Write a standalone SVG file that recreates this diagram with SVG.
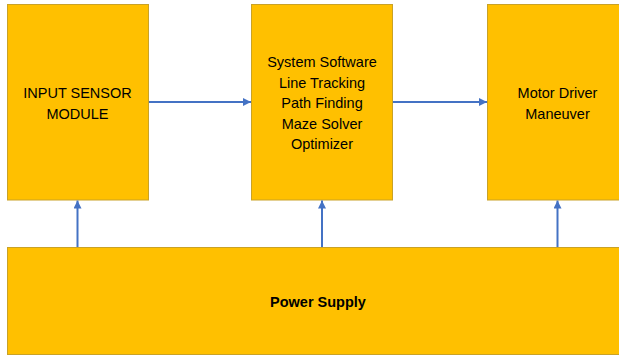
<svg xmlns="http://www.w3.org/2000/svg" width="619" height="356" viewBox="0 0 619 356">
  <style>
    .box { fill: #FFC000; stroke: #C9A227; stroke-width: 1; }
    .lbl { font-family: "Liberation Sans", Arial, sans-serif; font-size: 14.5px; fill: #000; text-anchor: middle; }
    .bold { font-weight: bold; }
    .conn { stroke: #4472C4; stroke-width: 2; fill: none; marker-end: url(#arrow); }
  </style>
  <defs>
    <marker id="arrow" viewBox="0 0 10 10" refX="10" refY="5" markerWidth="4" markerHeight="4" orient="auto" markerUnits="strokeWidth">
      <path d="M0,0 L10,5 L0,10 z" fill="#4472C4"/>
    </marker>
  </defs>

  <g id="input-sensor">
    <rect class="box" x="7.5" y="4.5" width="141" height="195.5"/>
    <text class="lbl" x="77.5" y="98">INPUT SENSOR</text>
    <text class="lbl" x="77.5" y="119">MODULE</text>
  </g>

  <g id="system-software">
    <rect class="box" x="251.5" y="4.5" width="141" height="195.5"/>
    <text class="lbl" x="322" y="67">System Software</text>
    <text class="lbl" x="322" y="87.5">Line Tracking</text>
    <text class="lbl" x="322" y="108">Path Finding</text>
    <text class="lbl" x="322" y="128.5">Maze Solver</text>
    <text class="lbl" x="322" y="149">Optimizer</text>
  </g>

  <g id="motor-driver">
    <rect class="box" x="487.5" y="4.5" width="141" height="195.5"/>
    <text class="lbl" x="557.5" y="98">Motor Driver</text>
    <text class="lbl" x="557.5" y="119">Maneuver</text>
  </g>

  <g id="power-supply">
    <rect class="box" x="7.5" y="247.5" width="620" height="107"/>
    <text class="lbl bold" x="318" y="307">Power Supply</text>
  </g>

  <g id="connectors">
    <line class="conn" x1="149" y1="102" x2="251" y2="102"/>
    <line class="conn" x1="393" y1="102" x2="487" y2="102"/>
    <line class="conn" x1="77.5" y1="247" x2="77.5" y2="200.5"/>
    <line class="conn" x1="322" y1="247" x2="322" y2="200.5"/>
    <line class="conn" x1="557.5" y1="247" x2="557.5" y2="200.5"/>
  </g>
</svg>
